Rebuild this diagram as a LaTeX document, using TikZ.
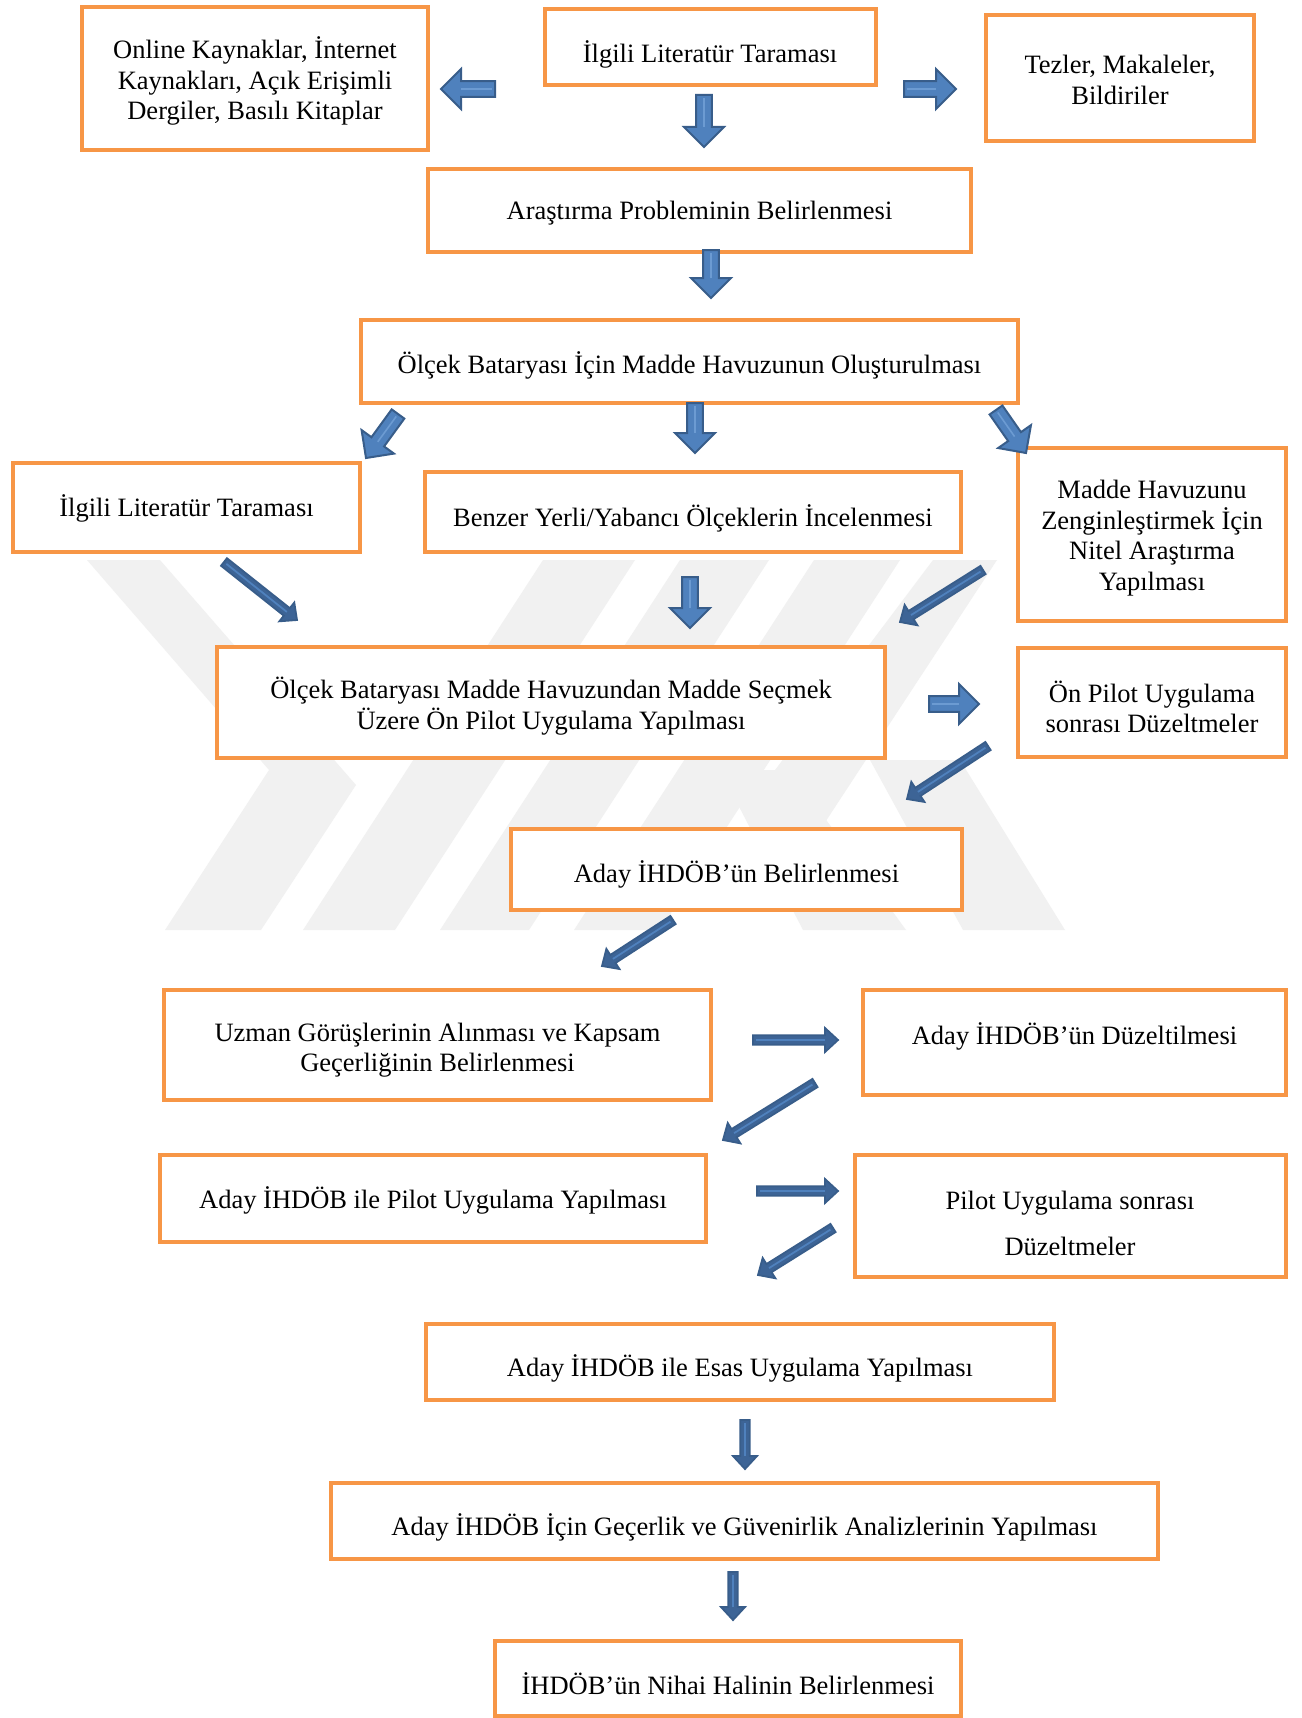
\documentclass[tikz,border=0pt]{standalone}
\usepackage{fontspec}
\setmainfont{Liberation Serif}
\usetikzlibrary{calc}
\definecolor{orng}{HTML}{F79646}
\definecolor{afill}{HTML}{4F81BD}
\definecolor{aline}{HTML}{385D8A}
\definecolor{adark}{HTML}{3D6496}
\definecolor{alight}{HTML}{6C9BD2}
\definecolor{wm}{gray}{0.945}
\tikzset{
  box/.style={draw=orng, line width=2.3pt, fill=white, inner sep=0pt},
  txt/.style={font=\fontsize{13.25}{15.3}\selectfont, align=center, inner sep=0pt},
  fatbody/.style={fill=afill, draw=aline, line width=1pt, line join=miter},
  thinbody/.style={fill=adark, draw=aline, line width=0.9pt, line join=miter},
  fatline/.style={draw=alight, line width=0.8pt},
  thinline/.style={draw=afill, line width=0.9pt},
  wmark/.style={fill=wm, draw=none}
}
% box: name, x1, y1, x2, y2 (pixel coordinates)
\newcommand{\mkbox}[5]{\node[box, minimum width={0.5pt*(#4-#2)}, minimum height={0.5pt*(#5-#3)}] (#1) at ({(#2+#4)/2},{(#3+#5)/2}) {};}
% block arrow: name, tail, tip, half shaft, half head, head length, kind
\newcommand{\blockarrow}[7]{%
  \coordinate (#1t) at (#2);
  \coordinate (#1p) at (#3);
  \coordinate (#1h) at ($(#1p)!#6!(#1t)$);
  \draw[#7body] ($(#1t)!#4!90:(#1p)$) -- ($(#1h)!#4!-90:(#1t)$) -- ($(#1h)!#5!-90:(#1t)$) -- (#1p) -- ($(#1h)!#5!90:(#1t)$) -- ($(#1h)!#4!90:(#1t)$) -- ($(#1t)!#4!-90:(#1p)$) -- cycle;
  \draw[#7line] ($(#1t)!1.5pt!(#1p)$) -- (#1h);
}
\newcommand{\fatarrow}[3]{\blockarrow{#1}{#2}{#3}{3.9pt}{10pt}{10pt}{fat}}
\newcommand{\thinarrow}[3]{\blockarrow{#1}{#2}{#3}{2.4pt}{6pt}{6.5pt}{thin}}
\begin{document}
\begin{tikzpicture}[x=0.5pt,y=-0.5pt]
\useasboundingbox (0,0) rectangle (1301,1718);
\fill[white] (0,0) rectangle (1301,1718);
% watermark
\fill[wmark] (87,560) -- (160,560) -- (356,785) -- (261,930) -- (165,930) -- (269,770) -- cycle;
\fill[wmark] (543,560) -- (635,560) -- (395,930) -- (303,930) -- cycle;
\fill[wmark] (680,560) -- (769,560) -- (529,930) -- (440,930) -- cycle;
\fill[wmark] (814,560) -- (900,560) -- (660,930) -- (574,930) -- cycle;
\fill[wmark] (933,560) -- (997,560) -- (820,830) -- (760,790) -- cycle;
\fill[wmark] (720,770) -- (790,770) -- (906,930) -- (803,930) -- cycle;
\fill[wmark] (870,760) -- (960,760) -- (1065,930) -- (963,930) -- cycle;
% boxes
\mkbox{b1}{82}{7}{428}{150}
\mkbox{b2}{545}{9}{876}{85}
\mkbox{b3}{986}{15}{1254}{141}
\mkbox{b4}{428}{169}{971}{252}
\mkbox{b5}{361}{320}{1018}{403}
\mkbox{b6}{13}{463}{360}{552}
\mkbox{b7}{425}{472}{961}{552}
\mkbox{b8}{1018}{448}{1286}{621}
\mkbox{b9}{217}{647}{885}{758}
\mkbox{b10}{1018}{648}{1286}{757}
\mkbox{b11}{511}{829}{962}{910}
\mkbox{b12}{164}{990}{711}{1100}
\mkbox{b13}{863}{990}{1286}{1095}
\mkbox{b14}{160}{1155}{706}{1242}
\mkbox{b15}{855}{1155}{1286}{1277}
\mkbox{b16}{426}{1324}{1054}{1400}
\mkbox{b17}{331}{1483}{1158}{1559}
\mkbox{b18}{495}{1641}{961}{1716}
% texts
\node[txt] (t1) at (255,81) {Online Kaynaklar, İnternet\\Kaynakları, Açık Erişimli\\Dergiler, Basılı Kitaplar};
\node[txt] (t2) at (710,54) {İlgili Literatür Taraması};
\node[txt] (t3) at (1120,80) {Tezler, Makaleler,\\Bildiriler};
\node[txt] (t4) at (699.5,213) {Araştırma Probleminin Belirlenmesi};
\node[txt] (t5) at (689.5,365) {Ölçek Bataryası İçin Madde Havuzunun Oluşturulması};
\node[txt] (t6) at (186.5,508) {İlgili Literatür Taraması};
\node[txt] (t7) at (693,518) {Benzer Yerli/Yabancı Ölçeklerin İncelenmesi};
\node[txt] (t8) at (1152,538) {Madde Havuzunu\\Zenginleştirmek İçin\\Nitel Araştırma\\Yapılması};
\node[txt] (t9) at (551,706) {Ölçek Bataryası Madde Havuzundan Madde Seçmek\\Üzere Ön Pilot Uygulama Yapılması};
\node[txt] (t10) at (1152,707) {Ön Pilot Uygulama\\sonrası Düzeltmeler};
\node[txt] (t11) at (736.5,874) {Aday İHDÖB’ün Belirlenmesi};
\node[txt] (t12) at (437.5,1050) {Uzman Görüşlerinin Alınması ve Kapsam\\Geçerliğinin Belirlenmesi};
\node[txt] (t13) at (1074.5,1036) {Aday İHDÖB’ün Düzeltilmesi};
\node[txt] (t14) at (433,1200) {Aday İHDÖB ile Pilot Uygulama Yapılması};
\node[txt] (t15) at (1070,1223) {Pilot Uygulama sonrası\\[7.7pt]Düzeltmeler};
\node[txt] (t16) at (740,1368) {Aday İHDÖB ile Esas Uygulama Yapılması};
\node[txt] (t17) at (744.5,1527) {Aday İHDÖB İçin Geçerlik ve Güvenirlik Analizlerinin Yapılması};
\node[txt] (t18) at (728,1684) {İHDÖB’ün Nihai Halinin Belirlenmesi};
% arrows
\fatarrow{a1}{495,89}{441,89}
\fatarrow{a2}{704,95}{704,147}
\fatarrow{a3}{904,89}{956,89}
\fatarrow{a4}{711,250}{711,298}
\fatarrow{a5}{398,414}{366,458}
\fatarrow{a6}{695,403}{695,453}
\fatarrow{a7}{996,410}{1026,453}
\thinarrow{a8}{224,562}{297,620}
\fatarrow{a9}{690,577}{690,628}
\thinarrow{a10}{983,570}{900,622}
\fatarrow{a11}{929,704}{979,704}
\thinarrow{a12}{988,746}{907,799}
\thinarrow{a13}{673,920}{602,966}
\thinarrow{a14}{753,1040}{838,1040}
\thinarrow{a15}{815,1083}{723,1140}
\thinarrow{a16}{757,1191}{838,1191}
\thinarrow{a17}{833,1228}{758,1275}
\thinarrow{a18}{745,1420}{745,1469}
\thinarrow{a19}{733,1572}{733,1620}
\end{tikzpicture}
\end{document}
